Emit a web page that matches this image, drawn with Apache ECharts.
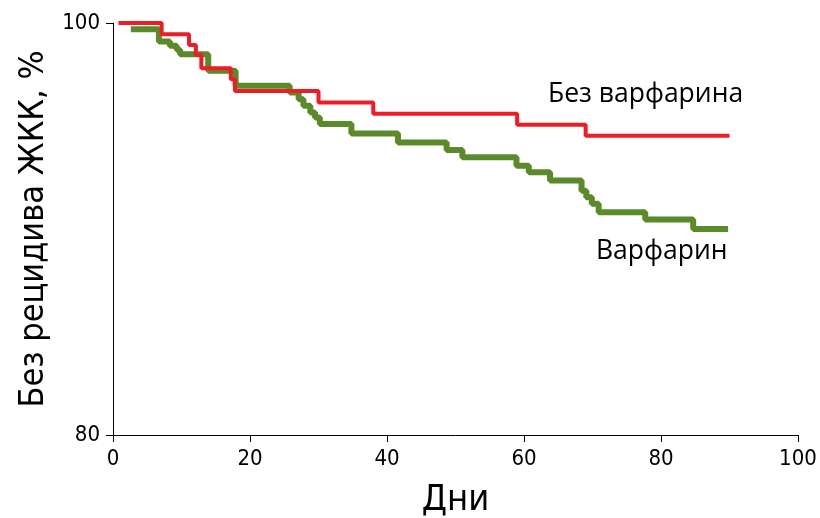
<!DOCTYPE html>
<html>
<head>
<meta charset="utf-8">
<script src="https://cdn.jsdelivr.net/npm/echarts@6/dist/echarts.min.js"></script>
<style>
  html, body { margin: 0; padding: 0; background: #fff; }
  #chart { width: 820px; height: 518px; }
</style>
</head>
<body>
<div id="chart"></div>
<script>
// Kaplan–Meier curves: day of event and survival (%) after it
const noWarfarinDays = [0.8, 7.1, 11.1, 12.1, 12.9, 17.2, 17.8, 30.0, 38.0, 59.0, 69.0, 90.0];
const noWarfarinPct  = [100, 99.45, 98.93, 98.45, 97.8, 97.27, 96.7, 96.14, 95.6, 95.06, 94.53, 94.53];

const warfarinDays = [2.6, 6.7, 8.3, 9.3, 9.8, 13.9, 17.9, 25.8, 27.1, 27.8, 28.8, 29.5, 30.2,
                      34.8, 41.6, 48.7, 51.0, 58.9, 60.7, 63.8, 68.4, 69.1, 69.9, 70.9, 77.7, 84.7, 89.8];
const warfarinPct  = [99.7, 99.1, 98.9, 98.7, 98.48, 97.68, 96.95, 96.63, 96.3, 95.98, 95.66, 95.41, 95.1,
                      94.64, 94.2, 93.83, 93.48, 93.07, 92.75, 92.35, 91.86, 91.54, 91.22, 90.81, 90.46, 90.0, 90.0];

const xTicks = { min: 0, max: 100, step: 20 };
const yTicks = { min: 80, max: 100, step: 20 };

const seriesNames = ['Без варфарина', 'Варфарин'];
const axisTitles = { x: 'Дни', y: 'Без рецидива ЖКК, %' };

const zip = (xs, ys) => xs.map((x, i) => [x, ys[i]]);

const tickFont = '"Liberation Sans Narrow", "DejaVu Sans Condensed", "Liberation Sans", sans-serif';
const labelFont = '"Open Sans", "Noto Sans", sans-serif';

const chart = echarts.init(document.getElementById('chart'), null, { renderer: 'canvas' });
chart.setOption({
  animation: false,
  backgroundColor: '#ffffff',
  grid: { left: 113, right: 22, top: 23, bottom: 83, containLabel: false, outerBoundsMode: 'none' },
  xAxis: {
    type: 'value',
    min: xTicks.min, max: xTicks.max, interval: xTicks.step,
    name: axisTitles.x,
    nameLocation: 'middle',
    nameGap: 48,
    nameTextStyle: { fontFamily: tickFont, fontSize: 36, color: '#000' },
    axisLine: { show: true, lineStyle: { color: '#000', width: 1 } },
    axisTick: { show: true, length: 7, lineStyle: { color: '#000' } },
    axisLabel: { fontFamily: tickFont, fontSize: 22, color: '#000', margin: 13 },
    splitLine: { show: false }
  },
  yAxis: {
    type: 'value',
    min: yTicks.min, max: yTicks.max, interval: yTicks.step,
    name: axisTitles.y,
    nameLocation: 'middle',
    nameGap: 58,
    nameRotate: 90,
    nameTextStyle: { fontFamily: tickFont, fontSize: 34, color: '#000' },
    axisLine: { show: true, lineStyle: { color: '#000', width: 1 } },
    axisTick: { show: true, length: 7, lineStyle: { color: '#000' } },
    axisLabel: { fontFamily: tickFont, fontSize: 22, color: '#000', margin: 13 },
    splitLine: { show: false }
  },
  series: [
    {
      name: seriesNames[1],
      type: 'line',
      step: 'end',
      showSymbol: false,
      z: 2,
      lineStyle: { color: '#5b8a2b', width: 6 },
      data: zip(warfarinDays, warfarinPct)
    },
    {
      name: seriesNames[0],
      type: 'line',
      step: 'end',
      showSymbol: false,
      z: 3,
      lineStyle: { color: '#ee1c25', width: 4 },
      data: zip(noWarfarinDays, noWarfarinPct)
    }
  ],
  graphic: [
    {
      type: 'text', left: 548, top: 81,
      style: { text: seriesNames[0], font: '26.5px ' + labelFont, fill: '#000' }
    },
    {
      type: 'text', left: 596, top: 238,
      style: { text: seriesNames[1], font: '26.5px ' + labelFont, fill: '#000' }
    }
  ]
});
</script>
</body>
</html>
